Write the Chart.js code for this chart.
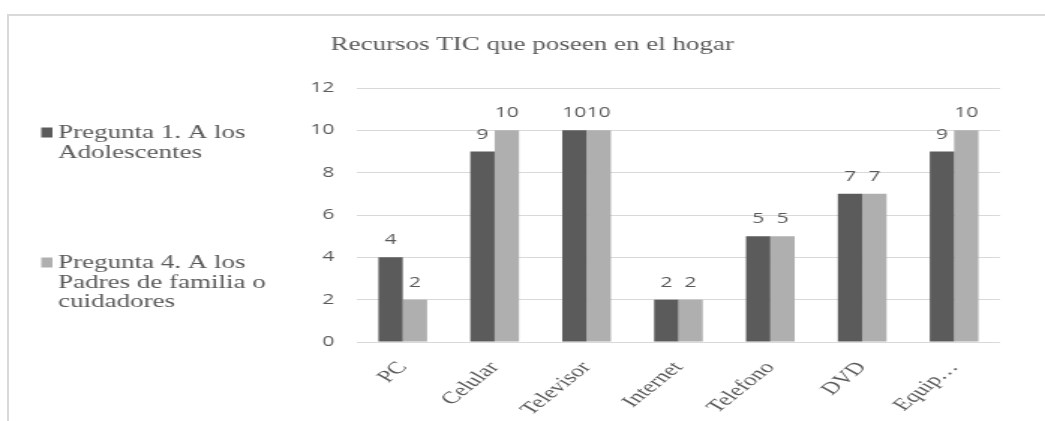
<!DOCTYPE html>
<html><head><meta charset="utf-8">
<script src="https://cdn.jsdelivr.net/npm/chart.js@4.4.1/dist/chart.umd.min.js"></script>
<style>
html,body{margin:0;padding:0;background:#fff;width:1045px;height:421px;overflow:hidden}
#frame{position:absolute;left:7px;top:14px;width:1100px;height:500px;border-top:2px solid #d9d9d9;border-left:2px solid #d9d9d9;box-sizing:border-box}
#wrap{position:absolute;left:0;top:0;width:697px;height:421px;transform:scaleX(1.4993);transform-origin:0 0}
</style></head><body>
<div id="frame"></div>
<div id="wrap"><canvas id="c" width="697" height="421"></canvas></div>
<script>
const chartTitle = "Recursos TIC que poseen en el hogar";
const categories = ["PC", "Celular", "Televisor", "Internet", "Telefono", "DVD", "Equip…"];
const seriesNames = ["Pregunta 1. A los Adolescentes", "Pregunta 4. A los Padres de familia o cuidadores"];
const adolescentes = [4, 9, 10, 2, 5, 7, 9];
const padres = [2, 10, 10, 2, 5, 7, 10];
const yTicks = [0, 2, 4, 6, 8, 10, 12];

const seriesColors = ["#5b5b5b", "#afafaf"];
const textColor = "#595959";
const serif = '"Liberation Serif", "Times New Roman", serif';
const sans = '"Open Sans", sans-serif';

function wrapText(ctx, text, maxW) {
  const words = text.split(" ");
  const lines = [];
  let cur = "";
  for (const w of words) {
    const t = cur ? cur + " " + w : w;
    if (cur && ctx.measureText(t).width > maxW) { lines.push(cur); cur = w; }
    else cur = t;
  }
  if (cur) lines.push(cur);
  return lines;
}

const titlePlugin = {
  id: "titleDraw",
  afterDraw(chart) {
    const ctx = chart.ctx;
    ctx.save();
    ctx.font = "18px " + serif;
    ctx.fillStyle = textColor;
    ctx.textAlign = "center";
    ctx.textBaseline = "alphabetic";
    ctx.fillText(chartTitle, 355, 50);
    ctx.restore();
  }
};

const legendPlugin = {
  id: "sideLegend",
  afterDraw(chart) {
    const ctx = chart.ctx;
    const baselines = [138, 268];
    ctx.save();
    ctx.font = "18px " + serif;
    ctx.textAlign = "left";
    ctx.textBaseline = "alphabetic";
    chart.data.datasets.forEach((ds, i) => {
      const b = baselines[i];
      ctx.fillStyle = ds.backgroundColor;
      ctx.fillRect(27.5, b - 10.5, 7.5, 10);
      ctx.fillStyle = textColor;
      const lines = wrapText(ctx, ds.label, 145);
      lines.forEach((ln, k) => ctx.fillText(ln, 38.7, b + k * 19.5));
    });
    ctx.restore();
  }
};

const valueLabels = {
  id: "valueLabels",
  afterDatasetsDraw(chart) {
    const ctx = chart.ctx;
    ctx.save();
    ctx.font = "14px " + sans;
    ctx.fillStyle = textColor;
    ctx.textAlign = "center";
    ctx.textBaseline = "alphabetic";
    chart.data.datasets.forEach((ds, i) => {
      const meta = chart.getDatasetMeta(i);
      meta.data.forEach((el, j) => {
        ctx.fillText(String(ds.data[j]), el.x, el.y - 13);
      });
    });
    ctx.restore();
  }
};

new Chart(document.getElementById("c"), {
  type: "bar",
  data: {
    labels: categories,
    datasets: [
      { label: seriesNames[0], data: adolescentes, backgroundColor: seriesColors[0] },
      { label: seriesNames[1], data: padres, backgroundColor: seriesColors[1] }
    ]
  },
  options: {
    responsive: false,
    animation: false,
    devicePixelRatio: 1,
    layout: { padding: { left: 0, right: 30, top: 88, bottom: 0 } },
    datasets: { bar: { categoryPercentage: 0.53, barPercentage: 1.0 } },
    plugins: { legend: { display: false }, title: { display: false }, tooltip: { enabled: false } },
    scales: {
      x: {
        grid: { display: false, drawTicks: false },
        border: { display: false },
        ticks: {
          color: textColor, font: { family: serif, size: 17 },
          minRotation: 50, maxRotation: 50, autoSkip: false, padding: 16
        },
        afterFit(scale) { scale.height = 79; }
      },
      y: {
        min: 0, max: 12,
        afterBuildTicks(scale) { scale.ticks = yTicks.map(v => ({ value: v })); },
        grid: { color: "#d9d9d9", drawTicks: false, lineWidth: 1 },
        border: { display: false },
        ticks: { color: textColor, font: { family: sans, size: 14 }, padding: 15 },
        afterFit(scale) { scale.width = 238; }
      }
    }
  },
  plugins: [titlePlugin, legendPlugin, valueLabels]
});
</script>
</body></html>
